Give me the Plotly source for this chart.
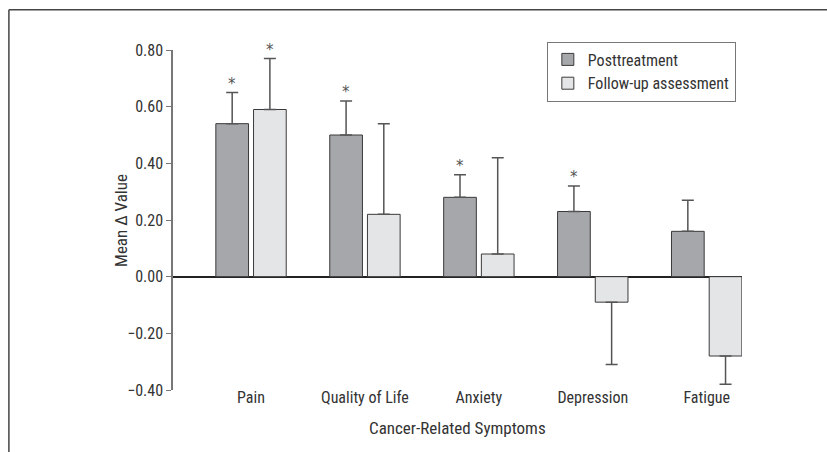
import plotly.graph_objects as go

categories = ["Pain", "Quality of Life", "Anxiety", "Depression", "Fatigue"]
post_vals = [0.54, 0.50, 0.28, 0.23, 0.16]
post_err = [0.11, 0.12, 0.08, 0.09, 0.11]
follow_vals = [0.59, 0.22, 0.08, -0.09, -0.28]
follow_err = [0.18, 0.32, 0.34, 0.22, 0.10]
post_sig = [True, True, True, True, False]
follow_sig = [True, False, False, False, False]
y_ticks = [-0.40, -0.20, 0.00, 0.20, 0.40, 0.60, 0.80]

FONT = "Liberation Sans Narrow, Roboto Condensed, Arial Narrow, Liberation Sans, sans-serif"
BAR_W = 0.287
GAP = 0.044
OFF_POST = -(BAR_W + GAP / 2)
OFF_FOLLOW = GAP / 2


def split_err(vals, errs):
    plus = [e if v >= 0 else 0 for v, e in zip(vals, errs)]
    minus = [e if v < 0 else 0 for v, e in zip(vals, errs)]
    return plus, minus


fig = go.Figure()
for name, vals, errs, color, off in [
    ("Posttreatment", post_vals, post_err, "#a6a7ab", OFF_POST),
    ("Follow-up assessment", follow_vals, follow_err, "#e4e5e7", OFF_FOLLOW),
]:
    plus, minus = split_err(vals, errs)
    fig.add_trace(go.Bar(
        name=name, x=categories, y=vals,
        width=[BAR_W] * len(categories), offset=[off] * len(categories),
        marker=dict(color=color, line=dict(color="#3a3a3a", width=1)),
        error_y=dict(type="data", symmetric=False, array=plus, arrayminus=minus,
                     color="#555555", thickness=1.5, width=6),
    ))

px_per_unit = 114.0
annotations = []
for vals, errs, sig, off in [
    (post_vals, post_err, post_sig, OFF_POST),
    (follow_vals, follow_err, follow_sig, OFF_FOLLOW),
]:
    for c, v, e, s in zip(categories, vals, errs, sig):
        if s:
            annotations.append(dict(
                x=c, y=v + e, xref="x", yref="y", text="*", showarrow=False,
                xshift=(off + BAR_W / 2) * px_per_unit, yanchor="bottom", yshift=-2,
                font=dict(family="DejaVu Sans, sans-serif", size=15, color="#555555"),
            ))

annotations.append(dict(
    x=0.5, y=-0.075, xref="paper", yref="paper", yanchor="top", showarrow=False,
    text="Cancer-Related Symptoms", font=dict(family=FONT, size=17, color="#333333"),
))
annotations.append(dict(
    x=-0.0915, y=0.5, xref="paper", yref="paper", xanchor="center", yanchor="middle",
    showarrow=False, textangle=-90,
    text="Mean Δ Value", font=dict(family=FONT, size=17, color="#333333"),
))

shapes = [
    dict(type="line", xref="paper", yref="paper", x0=-0.2884, x1=1.2, y0=1.1186, y1=1.1186,
         line=dict(color="#444444", width=1.5)),
    dict(type="line", xref="paper", yref="paper", x0=-0.2884, x1=-0.2884, y0=1.1186, y1=-0.3,
         line=dict(color="#444444", width=1.5)),
]

fig.update_layout(
    width=827, height=452,
    margin=dict(l=173, r=85, t=50, b=62),
    paper_bgcolor="white", plot_bgcolor="white",
    font=dict(family=FONT, size=16, color="#333333"),
    barmode="group",
    showlegend=True,
    legend=dict(x=0.657, y=1.025, xanchor="left", yanchor="top",
                bordercolor="#777777", borderwidth=1, bgcolor="white",
                font=dict(family=FONT, size=16, color="#333333"),
                tracegroupgap=0, itemwidth=30),
    xaxis=dict(range=[-0.685, 4.31], showline=False, showgrid=False, zeroline=False,
               ticks="", tickfont=dict(family=FONT, size=16, color="#333333"),
               ticklabelstandoff=-4),
    yaxis=dict(range=[-0.4, 0.8], tickvals=y_ticks, tickformat=".2f",
               showline=True, linecolor="#777777", linewidth=1.5,
               ticks="outside", ticklen=5, tickcolor="#777777", tickwidth=1,
               showgrid=False, zeroline=True, zerolinecolor="#222222", zerolinewidth=1.5,
               tickfont=dict(family=FONT, size=16, color="#333333")),
    annotations=annotations,
    shapes=shapes,
)

fig.write_html("out.html")
